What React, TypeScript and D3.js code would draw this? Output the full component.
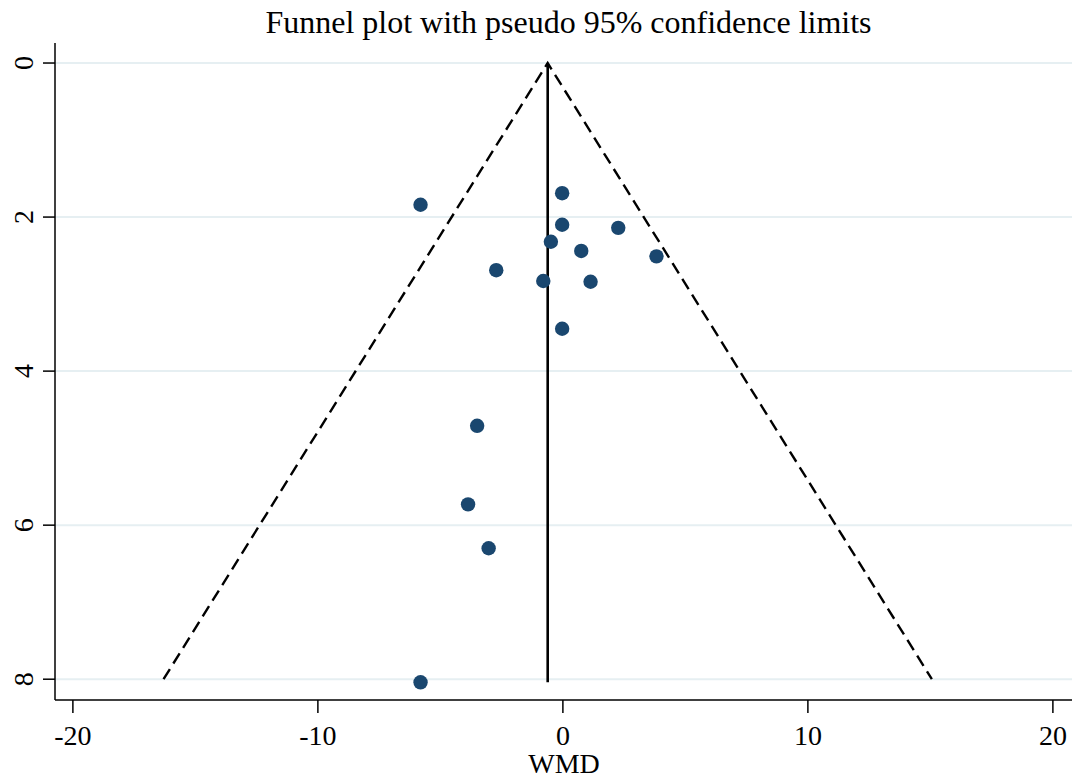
import React from "react";
import * as d3 from "d3";

const wmd = [-5.81, -0.03, -0.03, 2.26, -0.49, 0.75, 3.82, -2.72, -0.8, 1.13, -0.03, -3.5, -3.87, -3.03, -5.81];
const seWmd = [1.84, 1.69, 2.1, 2.14, 2.32, 2.44, 2.51, 2.69, 2.83, 2.84, 3.45, 4.71, 5.73, 6.3, 8.04];
const pooled = -0.62;
const funnelMaxSe = 8.0;
const xTicks = [-20, -10, 0, 10, 20];
const yTicks = [0, 2, 4, 6, 8];
const title = "Funnel plot with pseudo 95% confidence limits";
const xLabel = "WMD";

const W = 1076;
const H = 783;
const font = "'Liberation Serif', 'Times New Roman', serif";

export default function App() {
  const x = d3.scaleLinear().domain([-20.73, 20.78]).range([55, 1072]);
  const y = d3.scaleLinear().domain([-0.26, 8.27]).range([43, 700]);
  const [x0, x1] = x.range();
  const [yTop, yBot] = y.range();
  const line = d3.line<[number, number]>().x((d) => x(d[0])).y((d) => y(d[1]));
  const funnel: [number, number][] = [
    [pooled - 1.96 * funnelMaxSe, funnelMaxSe],
    [pooled, 0],
    [pooled + 1.96 * funnelMaxSe, funnelMaxSe],
  ];
  const maxSe = d3.max(seWmd) as number;
  const points = wmd.map((v, i) => ({ v, s: seWmd[i] }));

  return (
    <svg
      width={W}
      height={H}
      style={{ position: "absolute", left: 0, top: 0, background: "#fff" }}
    >
      <rect x={0} y={0} width={W} height={H} fill="#fff" />
      {yTicks.map((t) => (
        <line key={"g" + t} x1={x0} x2={x1} y1={y(t)} y2={y(t)} stroke="#e6eff2" strokeWidth={2} />
      ))}
      <path d={line(funnel) || ""} fill="none" stroke="#000" strokeWidth={2.4} strokeDasharray="12,6.5" />
      <line x1={x(pooled)} x2={x(pooled)} y1={y(0)} y2={y(maxSe)} stroke="#000" strokeWidth={2.6} />
      {points.map((p, i) => (
        <circle key={i} cx={x(p.v)} cy={y(p.s)} r={7.2} fill="#1a476f" />
      ))}
      <line x1={x0} x2={x0} y1={yTop} y2={yBot} stroke="#000" strokeWidth={1.5} />
      <line x1={x0} x2={x1} y1={yBot} y2={yBot} stroke="#000" strokeWidth={1.5} />
      {yTicks.map((t) => (
        <g key={"yt" + t}>
          <line x1={x0 - 12} x2={x0} y1={y(t)} y2={y(t)} stroke="#000" strokeWidth={1.5} />
          <text
            transform={`translate(${33},${y(t)}) rotate(-90)`}
            textAnchor="middle"
            fontFamily={font}
            fontSize={28}
            fill="#000"
          >
            {t}
          </text>
        </g>
      ))}
      {xTicks.map((t) => (
        <g key={"xt" + t}>
          <line x1={x(t)} x2={x(t)} y1={yBot} y2={yBot + 13} stroke="#000" strokeWidth={1.5} />
          <text x={x(t)} y={745} textAnchor="middle" fontFamily={font} fontSize={28} fill="#000">
            {t}
          </text>
        </g>
      ))}
      <text x={564} y={773} textAnchor="middle" fontFamily={font} fontSize={28} fill="#000">
        {xLabel}
      </text>
      <text x={568.5} y={33} textAnchor="middle" fontFamily={font} fontSize={32} fill="#000">
        {title}
      </text>
    </svg>
  );
}
